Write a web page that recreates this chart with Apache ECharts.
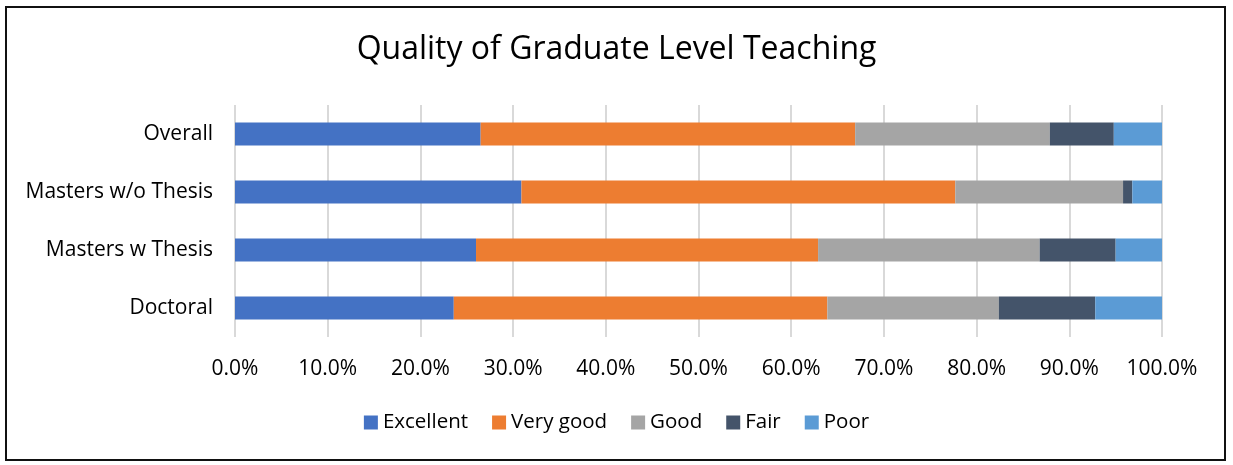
<!DOCTYPE html>
<html>
<head>
    <meta charset="utf-8">
    <title>Quality of Graduate Level Teaching</title>
    <script src="https://cdn.jsdelivr.net/npm/echarts@6/dist/echarts.min.js"></script>
    <style>
        html, body { margin: 0; padding: 0; background: #fff; }
    </style>
</head>
<body>
    <div id="main" style="width: 1233px;height:465px;"></div>
    <script type="text/javascript">
        // categories, top to bottom
        var programs = ['Overall', 'Masters w/o Thesis', 'Masters w Thesis', 'Doctoral'];

        // percent of responses per rating
        var excellent = [26.5, 30.9, 26.0, 23.6];
        var veryGood  = [40.4, 46.8, 36.9, 40.3];
        var good      = [21.0, 18.1, 23.9, 18.5];
        var fair      = [6.9, 1.0, 8.2, 10.4];
        var poor      = [5.2, 3.2, 5.0, 7.2];

        var ratingNames = ['Excellent', 'Very good', 'Good', 'Fair', 'Poor'];
        var ratingData = [excellent, veryGood, good, fair, poor];
        var colors = ['#4472c4', '#ed7d31', '#a5a5a5', '#44546a', '#5b9bd5'];

        var font = 'Open Sans';

        var myChart = echarts.init(document.getElementById('main'));

        var series = ratingNames.map(function (name, i) {
            return {
                name: name,
                type: 'bar',
                stack: 'total',
                barWidth: 23,
                itemStyle: { color: colors[i] },
                data: ratingData[i]
            };
        });

        myChart.setOption({
            animation: false,
            textStyle: { fontFamily: font },
            color: colors,
            title: {
                text: 'Quality of Graduate Level Teaching',
                left: 'center',
                top: 29,
                textStyle: { fontFamily: font, fontSize: 32, fontWeight: 'normal', color: '#000' }
            },
            legend: {
                data: ratingNames,
                bottom: 27,
                left: 'center',
                icon: 'rect',
                itemWidth: 14,
                itemHeight: 14,
                itemGap: 24,
                textStyle: { fontFamily: font, fontSize: 20.5, color: '#000' }
            },
            grid: {
                left: 235,
                right: 71,
                top: 105,
                bottom: 128
            },
            xAxis: {
                type: 'value',
                min: 0,
                max: 100,
                interval: 10,
                axisLine: { show: false },
                axisTick: { show: false },
                splitLine: { lineStyle: { color: '#d9d9d9', width: 2 } },
                axisLabel: {
                    margin: 22,
                    fontFamily: font,
                    fontSize: 21,
                    color: '#000',
                    formatter: function (v) { return v.toFixed(1) + '%'; }
                }
            },
            yAxis: {
                type: 'category',
                inverse: true,
                data: programs,
                axisLine: { show: false },
                axisTick: { show: false },
                axisLabel: { margin: 22, fontFamily: font, fontSize: 21, color: '#000' }
            },
            graphic: [{
                type: 'rect',
                shape: { x: 6, y: 7, width: 1219, height: 453 },
                style: { fill: 'none', stroke: '#111', lineWidth: 2 },
                silent: true
            }],
            series: series
        });
    </script>
</body>
</html>
